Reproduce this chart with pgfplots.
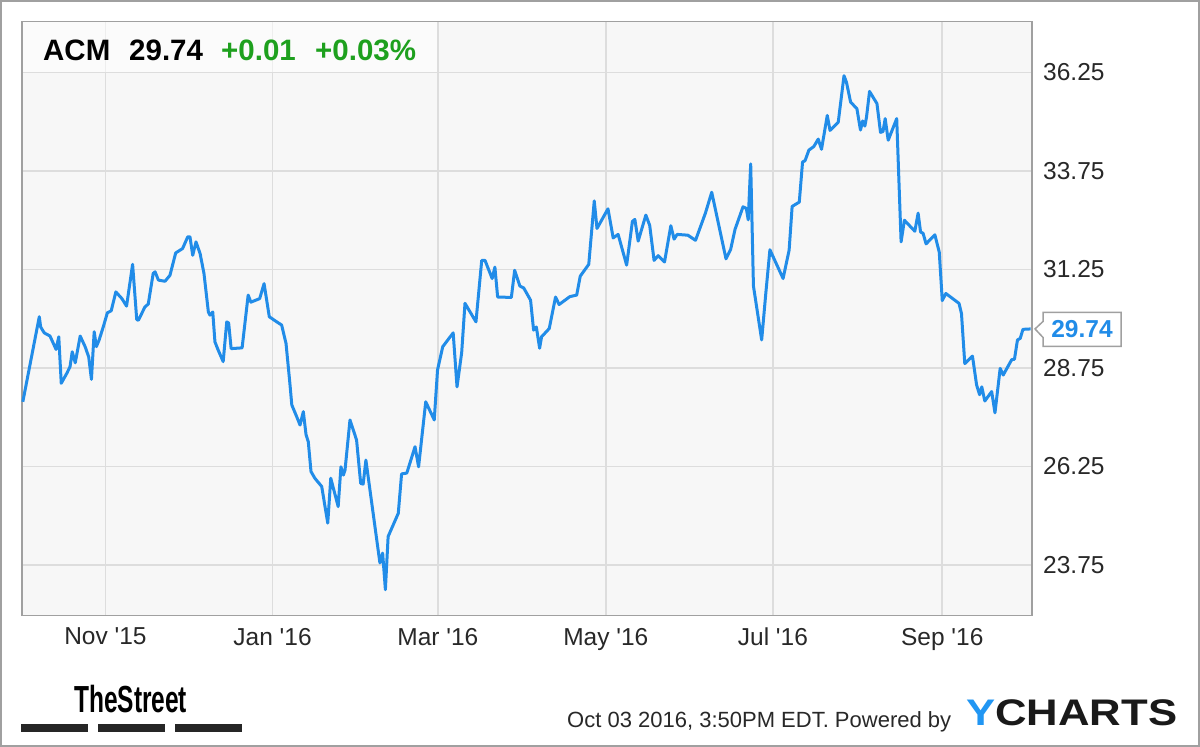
\documentclass[border=0pt]{standalone}
\usepackage{pgfplots}
\pgfplotsset{compat=1.18}
\usepackage{fontspec}
\setmainfont{Liberation Sans}
\definecolor{linecol}{RGB}{33,140,232}
\definecolor{gridcol}{RGB}{221,221,221}
\definecolor{bgcol}{RGB}{247,247,247}
\definecolor{bordercol}{RGB}{160,160,160}
\definecolor{upgreen}{RGB}{30,160,30}
\definecolor{txt}{RGB}{40,40,40}
\definecolor{ylogo}{RGB}{33,150,243}
\pgfplotstableread{
d price
0.3 27.89
6.3 30.05
6.8 29.79
8.1 29.64
10.2 29.56
11.7 29.33
12.4 29.22
13.4 29.54
14.3 28.36
16.3 28.61
17.5 28.78
18.3 29.16
19.4 28.88
21.2 29.56
23.0 29.29
24.3 29.03
25.3 28.46
26.3 29.67
27.1 29.29
28.1 29.46
29.6 29.79
31.1 30.15
32.5 30.20
34.2 30.68
36.4 30.51
38.1 30.32
40.3 31.38
41.8 29.98
42.4 29.96
44.8 30.30
46.0 30.37
47.8 31.15
48.5 31.19
49.7 30.98
52.1 30.95
53.9 31.10
56.0 31.67
58.5 31.78
60.4 32.08
61.2 32.08
62.2 31.61
63.4 31.95
64.9 31.65
66.3 31.15
67.9 30.17
68.5 30.09
69.5 30.17
70.3 29.41
71.5 29.20
73.3 28.91
74.6 29.92
75.3 29.89
76.2 29.24
80.2 29.26
82.4 30.60
83.4 30.42
86.6 30.51
88.2 30.89
90.1 30.05
92.8 29.92
94.6 29.84
96.2 29.37
97.6 28.36
98.3 27.81
100.1 27.51
101.3 27.30
102.5 27.64
103.5 27.05
104.3 26.88
105.3 26.12
106.7 25.95
109.2 25.74
111.4 24.81
112.5 25.95
115.2 25.23
116.2 26.24
117.1 26.03
117.7 26.16
119.5 27.43
121.9 26.92
123.4 25.82
124.3 25.80
125.3 26.41
130.4 23.80
131.4 24.05
132.4 23.12
133.4 24.47
137.1 25.06
138.3 26.06
140.2 26.08
143.2 26.75
144.5 26.24
147.1 27.89
150.2 27.43
151.4 28.70
153.3 29.29
157.1 29.64
158.5 28.27
160.2 29.14
161.4 30.39
165.4 29.92
167.5 31.48
168.7 31.48
171.3 31.02
172.3 31.31
173.3 30.55
178.3 30.54
179.5 31.23
181.4 30.83
182.8 30.78
185.3 30.47
186.4 29.71
187.4 29.79
188.6 29.25
189.3 29.54
192.1 29.75
194.4 30.55
195.7 30.36
199.6 30.56
202.1 30.60
203.4 31.08
206.5 31.38
208.5 32.99
209.5 32.29
213.5 32.79
215.4 32.05
217.2 32.14
220.3 31.36
222.4 32.47
223.3 32.52
224.5 31.97
227.3 32.63
228.7 32.37
230.3 31.48
231.8 31.60
234.1 31.44
236.4 32.36
237.6 32.02
238.7 32.14
242.6 32.12
245.4 31.99
249.0 32.68
251.3 33.21
256.5 31.52
258.2 31.76
259.8 32.27
262.7 32.84
263.9 32.80
264.6 32.51
265.5 33.93
266.5 30.83
269.5 29.46
271.0 30.64
272.5 31.75
277.3 31.02
279.5 31.74
280.6 32.85
283.2 32.96
284.4 33.98
285.3 34.01
286.7 34.28
288.5 34.37
290.1 34.56
291.3 34.30
293.4 35.16
294.4 34.78
297.4 34.99
299.5 36.17
300.4 36.00
301.9 35.50
304.2 35.33
305.5 34.79
306.3 35.02
307.1 34.89
307.7 35.12
308.8 35.77
311.5 35.46
312.8 34.73
313.7 34.75
314.5 35.08
315.6 34.53
318.7 35.08
320.3 31.95
321.5 32.50
325.3 32.22
326.5 32.68
327.4 32.20
328.3 32.17
329.4 31.90
332.6 32.13
334.2 31.69
335.3 30.46
336.6 30.64
341.4 30.39
342.3 30.13
343.5 28.86
346.3 29.05
347.8 28.32
348.9 28.07
349.7 28.27
350.8 27.91
353.3 28.15
354.5 27.61
356.4 28.74
357.5 28.57
360.6 28.96
361.6 28.97
362.7 29.46
363.7 29.50
364.7 29.73
367.5 29.74
}\acmdata
\begin{document}
\begin{tikzpicture}
\path[use as bounding box] (0pt,0pt) rectangle (1200pt,747pt);
\fill[white] (0pt,0pt) rectangle (1200pt,747pt);
\begin{axis}[
  at={(22pt,131.3pt)}, anchor=south west,
  width=1010pt, height=594pt, scale only axis,
  xmin=0, xmax=368, ymin=22.46, ymax=37.54,
  axis background/.style={fill=bgcol},
  axis line style={bordercol, line width=1.5pt},
  grid=major, grid style={gridcol, line width=1.6pt},
  major tick length=0pt,
  xtick={30.4,91.3,151.5,212.7,273.6,335.3},
  xticklabels={Nov \textquotesingle 15, Jan \textquotesingle 16, Mar \textquotesingle 16, May \textquotesingle 16, Jul \textquotesingle 16, Sep \textquotesingle 16},
  ytick={23.75,26.25,28.75,31.25,33.75,36.25},
  yticklabels={23.75,26.25,28.75,31.25,33.75,36.25},
  yticklabel pos=right,
  xticklabel style={font=\fontsize{24.5}{28}\selectfont, text=txt, anchor=north, inner sep=0pt, yshift=-12pt},
  yticklabel style={font=\fontsize{24.5}{28}\selectfont, text=txt, anchor=west, inner sep=0pt, xshift=11pt},
  clip=false,
]
\addplot[linecol, line width=3pt, line join=round, mark=none] table[x=d, y=price] {\acmdata};
\coordinate (last) at (axis cs:368,29.74);
\end{axis}
% header
\fill[white, opacity=0.5] (22.8pt,675pt) rectangle (437pt,724.5pt);
\node[anchor=base west, inner sep=0pt, font=\fontsize{29.5}{34}\selectfont\bfseries, text=black] at (43pt,686pt) {ACM};
\node[anchor=base west, inner sep=0pt, font=\fontsize{29.5}{34}\selectfont\bfseries, text=black] at (129pt,686pt) {29.74};
\node[anchor=base west, inner sep=0pt, font=\fontsize{29.5}{34}\selectfont\bfseries, text=upgreen] at (221pt,686pt) {+0.01};
\node[anchor=base west, inner sep=0pt, font=\fontsize{29.5}{34}\selectfont\bfseries, text=upgreen] at (315pt,686pt) {+0.03\%};
% last value callout
\draw[bordercol, fill=white, line width=1.5pt, line join=miter] (last) ++(3pt,0pt) -- ++(8pt,7.5pt) -- ++(0pt,9pt) -- ++(78pt,0pt) -- ++(0pt,-34pt) -- ++(-78pt,0pt) -- ++(0pt,9pt) -- cycle;
\node[inner sep=0pt, font=\fontsize{24.5}{28}\selectfont\bfseries, text=linecol] at ([xshift=50pt]last) {29.74};
% footer
\node[anchor=base west, inner sep=0pt, font=\fontsize{22}{26}\selectfont, text=txt] at (567pt,19.3pt) {Oct 03 2016, 3:50PM EDT. Powered by};
\node[anchor=base west, inner sep=0pt, font=\fontsize{37}{42}\selectfont\bfseries, xscale=1.18] at (966pt,21pt) {\textcolor{ylogo}{Y}\textcolor{black!90}{CHARTS}};
\node[anchor=base west, inner sep=0pt, font=\fontsize{37.7}{42}\selectfont\bfseries, xscale=0.65, text=black] at (74pt,34pt) {TheStreet};
\fill[black!85] (21pt,15.3pt) rectangle (88pt,23pt);
\fill[black!85] (98pt,15.3pt) rectangle (164.5pt,23pt);
\fill[black!85] (174.5pt,15.3pt) rectangle (241.8pt,23pt);
\draw[bordercol, line width=2pt] (1pt,1pt) rectangle (1199pt,746pt);
\end{tikzpicture}
\end{document}
